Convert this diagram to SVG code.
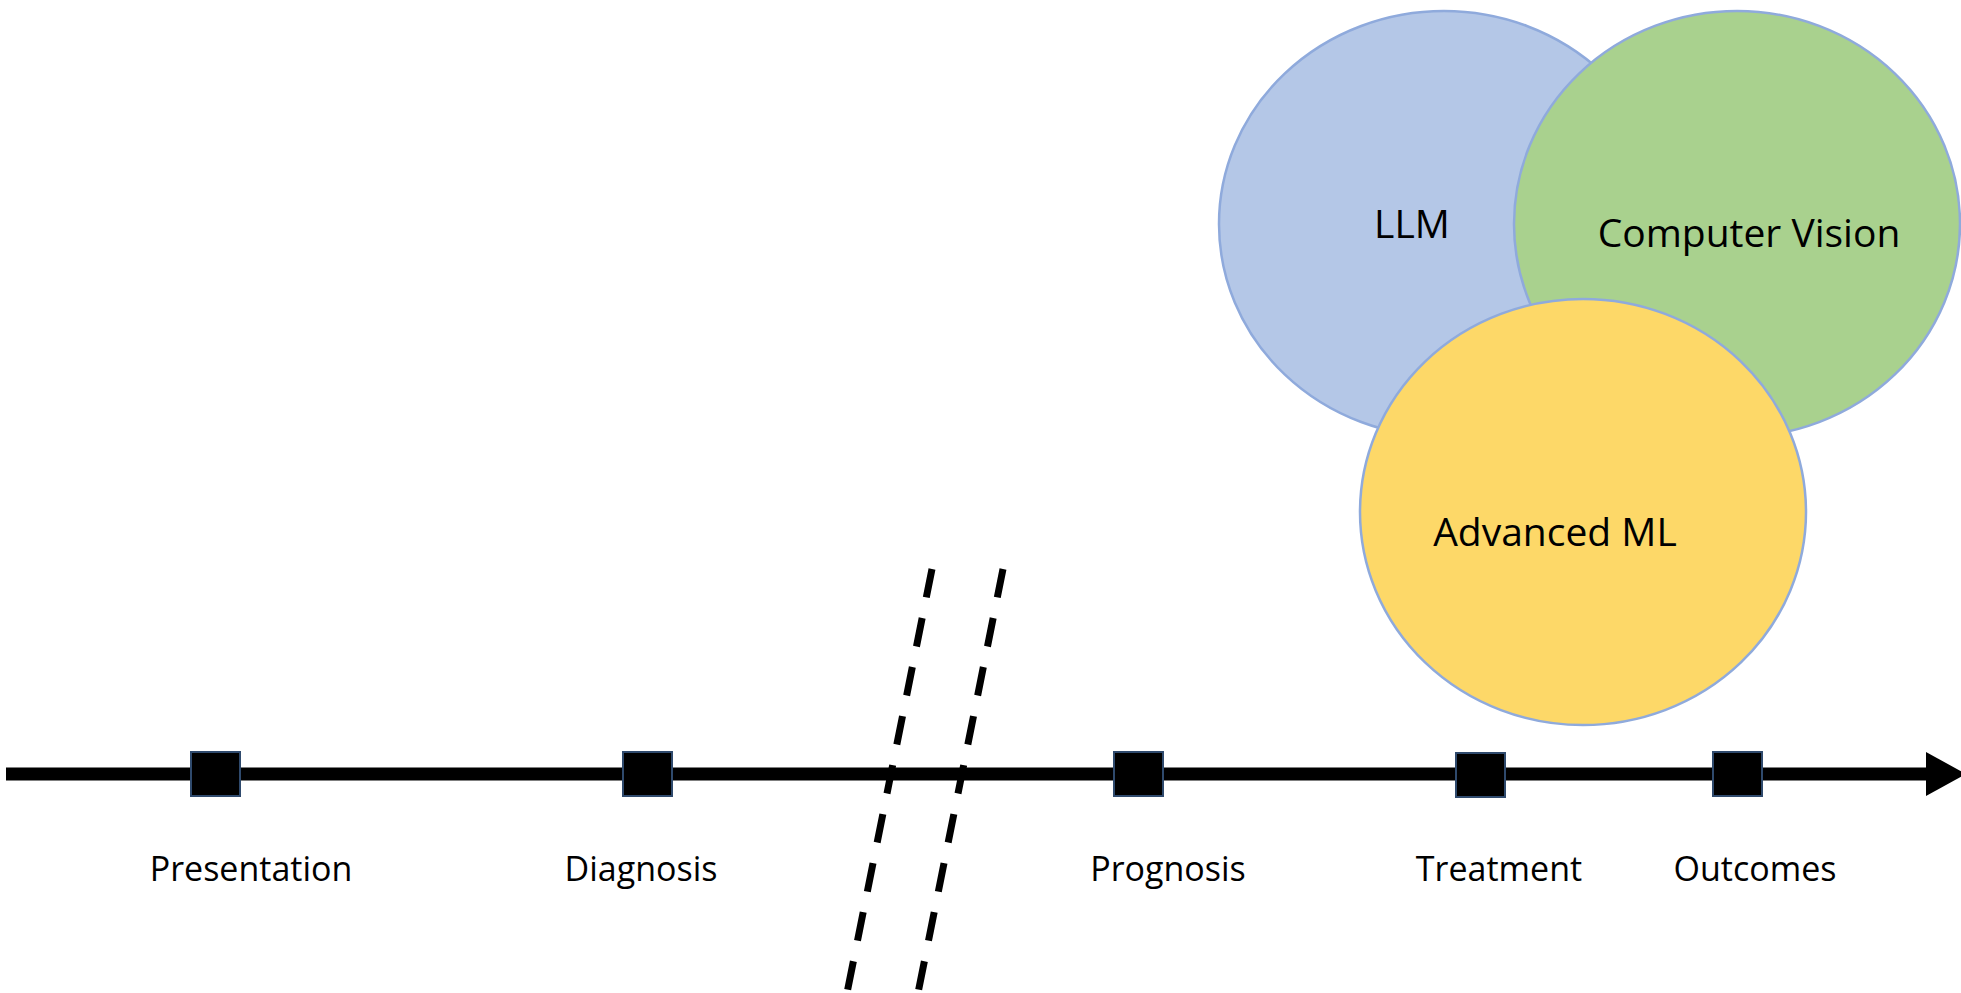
<svg xmlns="http://www.w3.org/2000/svg" width="1961" height="993" viewBox="0 0 1961 993">
<style>
.lbl{font-family:"Open Sans","Noto Sans","Liberation Sans",sans-serif;font-size:34px;fill:#000;text-anchor:middle}
.vlbl{font-family:"Open Sans","Noto Sans","Liberation Sans",sans-serif;font-size:39px;fill:#000;text-anchor:middle}
.mark{fill:#000;stroke:#2F4A6D;stroke-width:2}
.venn{stroke:#8FAADC;stroke-width:2.5}
.dash{stroke:#000;stroke-width:7;stroke-dasharray:29 21;fill:none}
</style>
<rect width="1961" height="993" fill="#fff"/>
<g id="venn-llm"><ellipse class="venn" cx="1444" cy="224" rx="225" ry="213" fill="#B4C7E7"/></g>
<g id="venn-cv"><ellipse class="venn" cx="1737" cy="224" rx="223" ry="213" fill="#A9D18E"/></g>
<g id="venn-ml"><ellipse class="venn" cx="1583" cy="512" rx="223" ry="213" fill="#FDD868"/></g>
<g id="venn-labels">
<text class="vlbl" x="1412" y="238">LLM</text>
<text class="vlbl" x="1749" y="247">Computer Vision</text>
<text class="vlbl" x="1555" y="546">Advanced ML</text>
</g>
<g id="connectors">
<line x1="6" y1="774" x2="1930" y2="774" stroke="#000" stroke-width="13"/>
<polygon points="1926,752 1926,796 1966,774" fill="#000"/>
</g>
<g id="presentation"><rect class="mark" x="191" y="752" width="49" height="44"/><text class="lbl" x="251" y="881">Presentation</text></g>
<g id="diagnosis"><rect class="mark" x="623" y="752" width="49" height="44"/><text class="lbl" x="641" y="881">Diagnosis</text></g>
<g id="prognosis"><rect class="mark" x="1114" y="752" width="49" height="44"/><text class="lbl" x="1168" y="881">Prognosis</text></g>
<g id="treatment"><rect class="mark" x="1456" y="753" width="49" height="44"/><text class="lbl" x="1499" y="881">Treatment</text></g>
<g id="outcomes"><rect class="mark" x="1713" y="752" width="49" height="44"/><text class="lbl" x="1755" y="881">Outcomes</text></g>
<g id="break-lines">
<line class="dash" x1="932" y1="569" x2="847" y2="993"/>
<line class="dash" x1="1003" y1="569" x2="918" y2="993"/>
</g>
</svg>
